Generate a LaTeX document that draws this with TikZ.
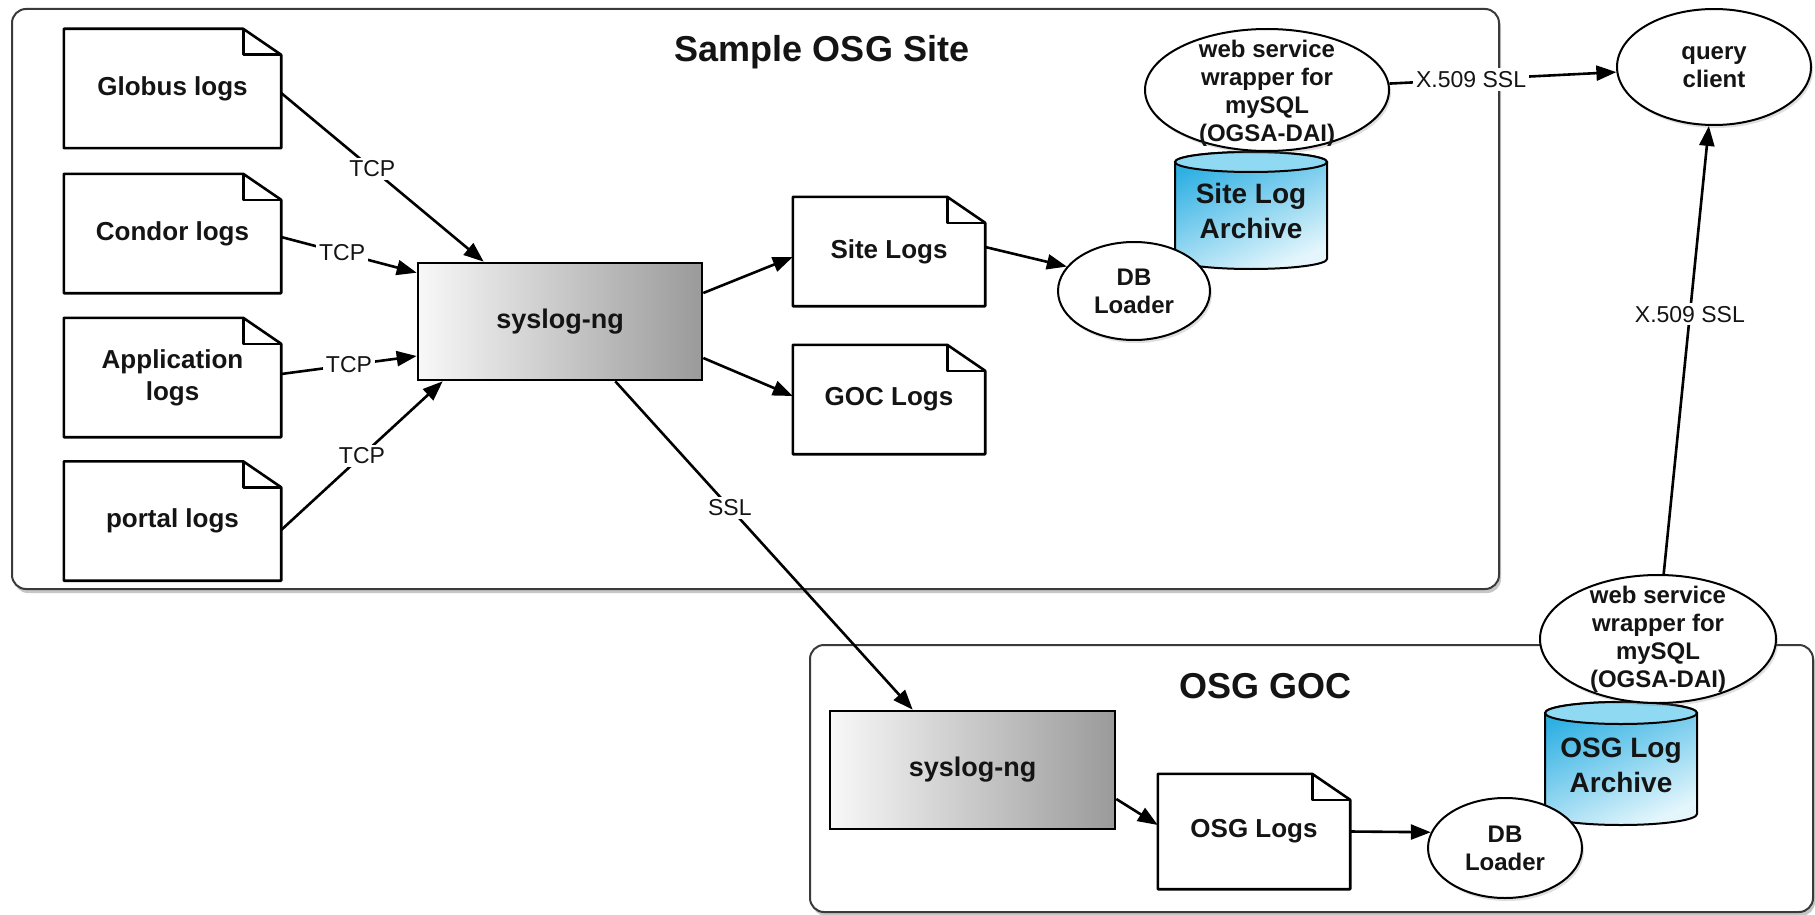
\documentclass[tikz,border=0pt]{standalone}
\usepackage{fontspec}
\setmainfont{Liberation Sans}
\usetikzlibrary{arrows.meta,shadows,shapes.geometric}
\definecolor{txt}{HTML}{141414}
\definecolor{framec}{HTML}{3A3A3A}
\definecolor{cylA}{HTML}{2FB0E3}
\definecolor{cylB}{HTML}{E4F6FC}
\definecolor{cyltopc}{HTML}{8FD9F3}
\definecolor{sysL}{HTML}{F8F8F8}
\definecolor{sysR}{HTML}{9A9A9A}
\newcommand{\dbcyl}[5]{%
  \path[draw=black, line width=2pt, top color=cylA, bottom color=cylB, shading angle=25]
   ({#1-#4},{#2+#5}) -- ({#1-#4},{#3-#5})
   arc[start angle=180,end angle=360,x radius=#4pt,y radius=#5pt]
   -- ({#1+#4},{#2+#5})
   arc[start angle=0,end angle=180,x radius=#4pt,y radius=#5pt] -- cycle;
  \path[draw=black, line width=2pt, fill=cyltopc] (#1,{#2+#5}) ellipse[x radius=#4pt, y radius=#5pt];
}
\begin{document}
\begin{tikzpicture}[x=1pt,y=-1pt,
  frame/.style={draw=framec, line width=2pt, rounded corners=14pt, fill=white,
    drop shadow={opacity=0.45, shadow xshift=2pt, shadow yshift=-4pt}},
  title/.style={font=\fontsize{36}{40}\selectfont\bfseries, text=txt},
  logdoc/.style={rectangle, fill=white, minimum width=217pt, minimum height=119pt,
    inner sep=0pt, align=center, text=txt, font=\fontsize{26}{32}\selectfont\bfseries},
  docline/.style={draw=black, line width=2.6pt, line join=round},
  sysbox/.style={rectangle, draw=black, line width=2.6pt, left color=sysL, right color=sysR,
    minimum width=284pt, minimum height=117pt, inner sep=0pt, text=txt,
    font=\fontsize{27}{32}\selectfont\bfseries},
  oval/.style={ellipse, draw=black, line width=2pt, fill=white, inner sep=0pt,
    drop shadow={opacity=0.25, shadow xshift=2pt, shadow yshift=-3pt}},
  ovtext/.style={align=center, text=txt, inner sep=0pt, font=\fontsize{24}{28}\selectfont\bfseries},
  cyltext/.style={align=center, text=txt, inner sep=0pt, font=\fontsize{28}{35}\selectfont\bfseries},
  arr/.style={draw=black, line width=2.6pt, -{Triangle[length=20pt,width=15pt]}},
  lbl/.style={fill=white, inner sep=3pt, text=txt, font=\fontsize{23}{26}\selectfont}
]
\useasboundingbox (0,0) rectangle (1815,915);
\clip (0,0) rectangle (1815,915);

% frames
\path[frame] (12,9) rectangle (1499,589);
\path[frame] (810,645) rectangle (1813,912);
\node[title] (t1) at (822,52) {Sample OSG Site};
\node[title] (t2) at (1265,686) {OSG GOC};

% log documents
\node[logdoc] (globus) at (172.5,88.5) {Globus logs};
\node[logdoc] (condor) at (172.5,233.5) {Condor logs};
\node[logdoc] (app) at (172.5,377.5) {Application\\logs};
\node[logdoc] (portal) at (172.5,521) {portal logs};
\node[logdoc, minimum width=192pt, minimum height=109pt] (sitelogs) at (889,251.5) {Site Logs};
\node[logdoc, minimum width=192pt, minimum height=109pt] (goclogs) at (889,399.5) {GOC Logs};
\node[logdoc, minimum width=192pt, minimum height=115pt] (osglogs) at (1254,831.5) {OSG Logs};
\foreach \n in {globus,condor,app,portal,sitelogs,goclogs,osglogs}{
  \draw[docline] (\n.south west) -- (\n.north west) -- ([xshift=-38pt]\n.north east)
     -- ([yshift=-26pt]\n.north east) -- (\n.south east) -- cycle;
  \draw[docline] ([xshift=-38pt]\n.north east) -- ([xshift=-38pt,yshift=-26pt]\n.north east)
     -- ([yshift=-26pt]\n.north east);
}

% syslog boxes
\node[sysbox] (syslog) at (560,321.5) {syslog-ng};
\node[sysbox, minimum width=285pt, minimum height=118pt] (syslog2) at (972.5,770) {syslog-ng};

% archives
\dbcyl{1251}{152}{269}{76}{10}
\node[cyltext] (arch1) at (1251,211) {Site Log\\Archive};
\dbcyl{1621}{702}{825}{76}{11}
\node[cyltext] (arch2) at (1621,765) {OSG Log\\Archive};

% ovals
\node[oval, minimum width=152pt, minimum height=98pt,
  label={[ovtext]center:{DB\\Loader}}] (dbl1) at (1134,291) {};
\node[oval, minimum width=244pt, minimum height=122pt,
  label={[ovtext,yshift=-3pt]center:{web service\\wrapper for\\mySQL\\(OGSA-DAI)}}] (web1) at (1267,90) {};
\node[oval, minimum width=194pt, minimum height=116pt,
  label={[ovtext]center:{query\\client}}] (query) at (1714,67) {};
\node[oval, minimum width=154pt, minimum height=100pt,
  label={[ovtext]center:{DB\\Loader}}] (dbl2) at (1505,848) {};
\node[oval, minimum width=236pt, minimum height=128pt,
  label={[ovtext]center:{web service\\wrapper for\\mySQL\\(OGSA-DAI)}}] (web2) at (1658,639) {};

% connectors
\draw[arr] ([yshift=-4.5pt]globus.east) -- node[lbl,pos=0.45]{TCP} ([xshift=67pt]syslog.north west);
\draw[arr] ([yshift=-3.5pt]condor.east) -- node[lbl,pos=0.45]{TCP} ([yshift=-11pt]syslog.north west);
\draw[arr] ([yshift=3.5pt]app.east) -- node[lbl,pos=0.5]{TCP} ([yshift=-34.5pt]syslog.west);
\draw[arr] ([yshift=-9pt]portal.east) -- node[lbl,pos=0.5]{TCP} ([xshift=26pt]syslog.south west);
\draw[arr] ([yshift=28.5pt]syslog.east) -- ([yshift=-5.5pt]sitelogs.west);
\draw[arr] ([yshift=-36.5pt]syslog.east) -- ([yshift=3.5pt]goclogs.west);
\draw[arr] ([yshift=4.5pt]sitelogs.east) -- (dbl1.160);
\draw[arr] ([xshift=-88pt]syslog.south east) -- node[lbl,pos=0.385]{SSL} ([xshift=84pt]syslog2.north west);
\draw[arr] ([yshift=-29pt]syslog2.east) -- ([yshift=6.5pt]osglogs.west);
\draw[arr] (osglogs.east) -- (dbl2.168);
\draw[arr] (web1.3) -- node[lbl,pos=0.36]{X.509 SSL} (query.183);
\draw[arr] (web2.85) -- node[lbl,pos=0.58]{X.509 SSL} (query.265);
\end{tikzpicture}
\end{document}
